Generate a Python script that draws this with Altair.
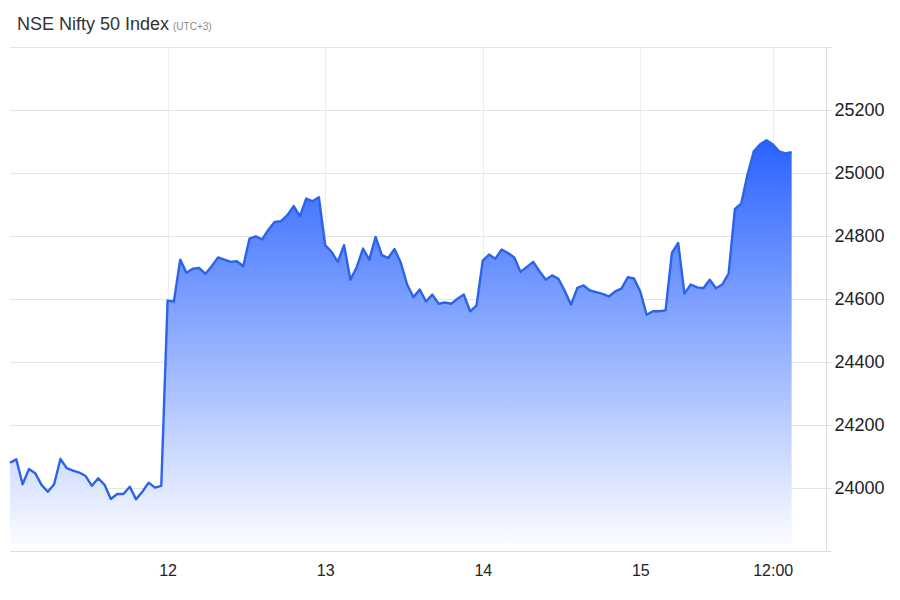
import altair as alt
import pandas as pd

TITLE = "NSE Nifty 50 Index"
TZ_NOTE = "(UTC+3)"

# 15-minute closes per trading session (25 points each)
SESSIONS = ["11", "12", "13", "14", "15"]
S11 = [24080, 24091, 24012, 24060, 24047, 24010, 23988, 24012, 24092, 24063,
       24055, 24049, 24038, 24007, 24031, 24010, 23965, 23981, 23981, 24004,
       23964, 23988, 24017, 24001, 24007]
S12 = [24595, 24592, 24725, 24683, 24696, 24699, 24680, 24704, 24732, 24725,
       24718, 24720, 24704, 24792, 24799, 24789, 24820, 24845, 24847, 24866,
       24895, 24863, 24919, 24910, 24923]
S13 = [24771, 24750, 24718, 24771, 24661, 24701, 24760, 24725, 24797, 24739,
       24730, 24759, 24715, 24646, 24606, 24630, 24592, 24614, 24585, 24589,
       24585, 24601, 24614, 24561, 24579]
S14 = [24722, 24741, 24728, 24757, 24746, 24732, 24686, 24702, 24718, 24688,
       24661, 24675, 24664, 24626, 24582, 24635, 24643, 24627, 24622, 24616,
       24608, 24624, 24633, 24669, 24665]
S15 = [24623, 24550, 24561, 24561, 24564, 24746, 24778, 24617, 24646, 24637,
       24634, 24661, 24634, 24646, 24681, 24886, 24903, 24995, 25069, 25091,
       25104, 25091, 25069, 25062, 25066]
POINTS_PER_SESSION = 25

TICK_POS = [25, 50, 75, 100, 121]
TICK_LABELS = ["12", "13", "14", "15", "12:00"]
Y_TICKS = [23800, 24000, 24200, 24400, 24600, 24800, 25000, 25200, 25400]
Y_MIN, Y_MAX = 23800, 25400
X_MAX = 129.45

rows = []
for s, vals in enumerate([S11, S12, S13, S14, S15]):
    for i, v in enumerate(vals):
        rows.append({"idx": s * POINTS_PER_SESSION + i, "value": v, "session": SESSIONS[s]})
df = pd.DataFrame(rows)

x_expr = " : ".join(
    f"datum.value == {p} ? '{l}'" for p, l in zip(TICK_POS, TICK_LABELS)
) + " : ''"
y_expr = "datum.value >= 24000 && datum.value <= 25200 ? format(datum.value, 'd') : ''"

FONT = "Liberation Sans"

x_enc = alt.X(
    "idx:Q",
    scale=alt.Scale(domain=[0, X_MAX], nice=False, zero=False),
    axis=alt.Axis(
        values=TICK_POS, labelExpr=x_expr, title=None, grid=True,
        gridColor="#ececec", domainColor="#dcdcdc", ticks=False, tickSize=0,
        labelPadding=11, labelFontSize=16, labelFont=FONT, labelColor="#222222",
        labelFlush=False,
    ),
)
y_enc = alt.Y(
    "value:Q",
    scale=alt.Scale(domain=[Y_MIN, Y_MAX], nice=False, zero=False),
    axis=alt.Axis(
        orient="right", values=Y_TICKS, labelExpr=y_expr, title=None, grid=True,
        gridColor="#e4e4e4", domainColor="#dcdcdc", tickColor="#dcdcdc",
        tickSize=5, labelPadding=3, labelFontSize=18, labelFont=FONT,
        labelColor="#222222",
    ),
)

base = alt.Chart(df)

area = base.mark_area(
    color=alt.Gradient(
        gradient="linear",
        stops=[alt.GradientStop(color="#2962ff", offset=0),
               alt.GradientStop(color="#ffffff", offset=1)],
        x1=1, x2=1, y1=0, y2=1,
    ),
    opacity=1,
).encode(x=x_enc, y=y_enc, y2=alt.datum(Y_MIN))

line = base.mark_line(color="#2b63eb", strokeWidth=2.4, strokeJoin="round").encode(
    x="idx:Q", y="value:Q"
)

title_df = pd.DataFrame({"t": [TITLE]})
note_df = pd.DataFrame({"t": [TZ_NOTE]})

title_txt = alt.Chart(title_df).mark_text(
    align="left", baseline="alphabetic", font=FONT, fontSize=18, color="#333333"
).encode(text="t:N", x=alt.value(7), y=alt.value(-17.5))

note_txt = alt.Chart(note_df).mark_text(
    align="left", baseline="alphabetic", font=FONT, fontSize=10, color="#888888"
).encode(text="t:N", x=alt.value(163), y=alt.value(-17.5))

chart = alt.layer(area, line, title_txt, note_txt).properties(
    width=816, height=504,
    autosize=alt.AutoSizeParams(type="none"),
    padding={"left": 2, "top": 39, "right": 62, "bottom": 37},
    background="white",
).configure_view(stroke=None)

chart.save("out.html", embed_options={"renderer": "svg", "actions": False})
